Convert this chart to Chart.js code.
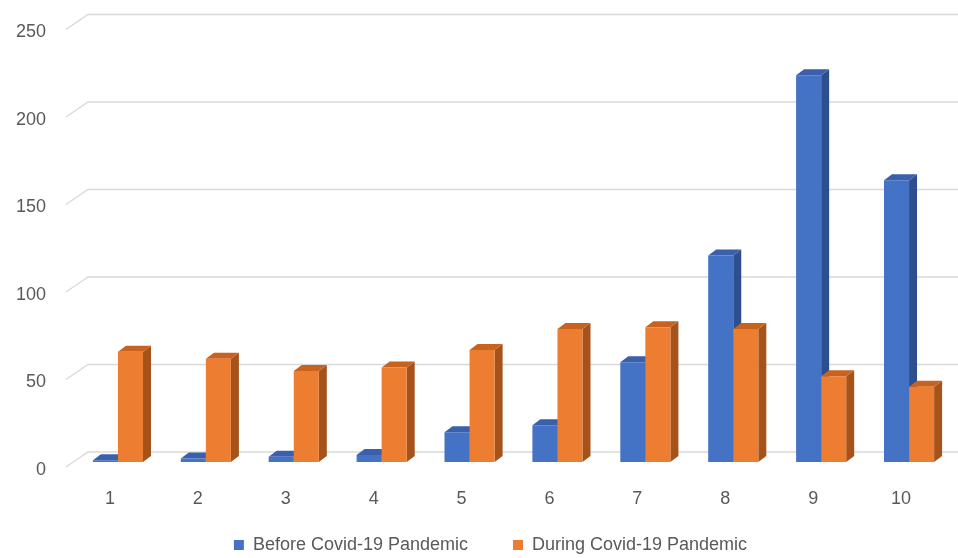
<!DOCTYPE html>
<html>
<head>
<meta charset="utf-8">
<script src="https://cdn.jsdelivr.net/npm/chart.js@4.4.1/dist/chart.umd.min.js"></script>
<style>
  html, body { margin: 0; padding: 0; background: #ffffff; }
  #wrap { width: 958px; height: 558px; position: relative; }
</style>
</head>
<body>
<div id="wrap"><canvas id="c"></canvas></div>
<script>
const categories = ['1', '2', '3', '4', '5', '6', '7', '8', '9', '10'];
const beforeCovid = [1, 2, 3, 4, 17, 21, 57, 118, 221, 161];
const duringCovid = [63, 59, 52, 54, 64, 76, 77, 76, 49, 43];
const yTicks = [0, 50, 100, 150, 200, 250];

const seriesNames = ['Before Covid-19 Pandemic', 'During Covid-19 Pandemic'];
const frontColors = ['#4472C4', '#ED7D31'];
const topColors = ['#3A5FAB', '#C7621F'];
const sideColors = ['#2E4F8E', '#A5531A'];

const DX = 8, DY = 6;          // bar depth offset
const WALL_DX = 22, BACK = 10;

// compact bottom legend: wide gap between items, but a short box
const LEGEND_H = 50, LEGEND_SHIFT_Y = 17, LEGEND_SHIFT_X = 14;
const LegendEl = Chart.Legend._element;
const origFit = LegendEl.prototype.fit;
LegendEl.prototype.fit = function () {
  origFit.call(this);
  if (this.isHorizontal()) this.height = LEGEND_H;
};
const origDraw = LegendEl.prototype._draw;
LegendEl.prototype._draw = function () {
  const t = this.top, l = this.left, r = this.right;
  this.top = t - LEGEND_SHIFT_Y;
  this.left = l + LEGEND_SHIFT_X;
  this.right = r + LEGEND_SHIFT_X;
  origDraw.call(this);
  this.top = t; this.left = l; this.right = r;
};

const threeD = {
  id: 'threeD',
  beforeDatasetsDraw(chart) {
    const ctx = chart.ctx;
    const y = chart.scales.y;
    const area = chart.chartArea;
    ctx.save();
    ctx.strokeStyle = '#D9D9D9';
    ctx.lineWidth = 1.3;
    yTicks.forEach(v => {
      const py = y.getPixelForValue(v);
      ctx.beginPath();
      ctx.moveTo(area.left - 8, py + 5);
      ctx.lineTo(area.left - 8 + WALL_DX, py - BACK);
      ctx.lineTo(chart.width, py - BACK);
      ctx.stroke();
    });
    ctx.restore();
    const metas = [chart.getDatasetMeta(0), chart.getDatasetMeta(1)];
    for (let i = 0; i < categories.length; i++) {
      metas.forEach((meta, di) => {
        const el = meta.data[i];
        if (!el) return;
        const p = el.getProps(['x', 'y', 'base', 'width'], true);
        const l = p.x - p.width / 2, r = p.x + p.width / 2;
        const top = p.y, base = p.base;
        ctx.save();
        ctx.fillStyle = sideColors[di];
        ctx.beginPath();
        ctx.moveTo(r, top);
        ctx.lineTo(r + DX, top - DY);
        ctx.lineTo(r + DX, base - DY);
        ctx.lineTo(r, base);
        ctx.closePath();
        ctx.fill();
        ctx.fillStyle = topColors[di];
        ctx.beginPath();
        ctx.moveTo(l, top);
        ctx.lineTo(l + DX, top - DY);
        ctx.lineTo(r + DX, top - DY);
        ctx.lineTo(r, top);
        ctx.closePath();
        ctx.fill();
        ctx.restore();
      });
    }
  }
};

const FONT = { family: "'Liberation Sans', Arial, sans-serif", size: 18 };

new Chart(document.getElementById('c'), {
  type: 'bar',
  data: {
    labels: categories,
    datasets: [
      { label: seriesNames[0], data: beforeCovid, backgroundColor: frontColors[0],
        barPercentage: 1.0, categoryPercentage: 0.57, borderWidth: 0 },
      { label: seriesNames[1], data: duringCovid, backgroundColor: frontColors[1],
        barPercentage: 1.0, categoryPercentage: 0.57, borderWidth: 0 }
    ]
  },
  options: {
    responsive: true,
    maintainAspectRatio: false,
    animation: false,
    layout: { padding: { top: 24.5, right: 5, left: 0, bottom: 0 } },
    plugins: {
      legend: {
        position: 'bottom',
        labels: {
          color: '#595959',
          font: FONT,
          boxWidth: 10,
          boxHeight: 10,
          padding: 45
        }
      },
      tooltip: { enabled: false }
    },
    scales: {
      x: {
        afterFit(scale) { scale.height = 46; },
        grid: { display: false, drawTicks: false },
        border: { display: false },
        ticks: { color: '#595959', font: FONT, padding: 26, labelOffset: -8 }
      },
      y: {
        min: 0, max: 250,
        afterBuildTicks(scale) { scale.ticks = yTicks.map(v => ({ value: v })); },
        afterFit(scale) {
          scale.width = 74;
          scale.paddingTop = 0;
          scale.paddingBottom = 0;
        },
        grid: { display: false, drawTicks: false },
        border: { display: false },
        ticks: { color: '#595959', font: FONT, padding: 28, labelOffset: 8 }
      }
    }
  },
  plugins: [threeD]
});
</script>
</body>
</html>
